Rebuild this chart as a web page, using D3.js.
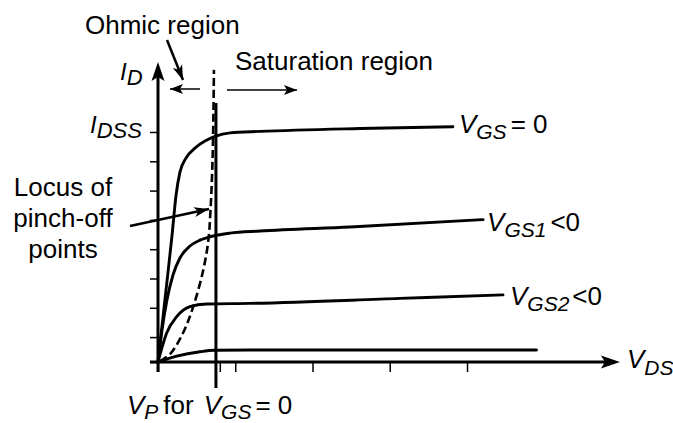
<!DOCTYPE html>
<html>
<head>
<meta charset="utf-8">
<script src="https://cdn.jsdelivr.net/npm/d3@7"></script>
<style>
  html, body { margin: 0; padding: 0; background: #fff; }
  svg { display: block; font-family: "Liberation Sans", Arial, sans-serif; }
</style>
</head>
<body>
<div id="chart"></div>
<script>
// JFET drain characteristics (arbitrary units)
const vgs0Vds = [0, 0.52, 0.91, 1.17, 1.42, 1.81, 2.39, 3.04, 3.69, 4.66, 6.6, 13.07, 19.09];
const vgs0Id = [0, 2.46, 4.33, 5.7, 6.48, 6.96, 7.3, 7.54, 7.7, 7.82, 7.87, 7.97, 8.03];

const vgs1Vds = [0, 0.26, 0.58, 0.97, 1.42, 2.07, 2.72, 3.56, 4.66, 6.6, 12.43, 21.04];
const vgs1Id = [0, 1.09, 2.12, 2.97, 3.55, 3.96, 4.16, 4.3, 4.4, 4.47, 4.61, 4.86];

const vgs2Vds = [0, 0.56, 1.21, 2.07, 3.15, 5.95, 15.66, 22.33];
const vgs2Id = [0, 0.99, 1.55, 1.89, 1.98, 2.0, 2.17, 2.29];

const vgs3Vds = [0, 1.21, 2.72, 3.69, 6.0, 24.5];
const vgs3Id = [0, 0.2, 0.35, 0.4, 0.41, 0.41];

// locus of pinch-off points (dashed)
const locusVds = [0.13, 0.78, 1.62, 2.28, 2.93, 3.26, 3.4, 3.53, 3.59, 3.62];
const locusId = [0.03, 0.27, 0.99, 1.89, 3.14, 4.16, 5.19, 6.89, 8.6, 9.97];

const vpVds = 3.75;
const idss = 7.85;
const xTicks = [0, 4, 5, 10, 15, 20];
const yTicks = [0, 0.85, 1.85, 2.85, 3.85, 4.85, 5.85, 6.85, 7.85];

const W = 673;
const H = 423;

const svg = d3.select('#chart').append('svg').attr('width', W).attr('height', H);
svg.append('rect').attr('width', W).attr('height', H).attr('fill', '#fff');

const x = d3.scaleLinear().domain([0, 30]).range([158, 621.5]);
const y = d3.scaleLinear().domain([0, 10]).range([362, 69]);

// ticks
svg
  .append('g')
  .attr('transform', `translate(0,${y(0)})`)
  .call(d3.axisBottom(x).tickValues(xTicks).tickSize(10).tickSizeOuter(0).tickFormat(''))
  .call((g) => g.select('.domain').remove())
  .call((g) => g.selectAll('line').attr('stroke', '#000').attr('stroke-width', 1.5));

svg
  .append('g')
  .attr('transform', `translate(${x(0)},0)`)
  .call(d3.axisLeft(y).tickValues(yTicks).tickSize(8).tickSizeOuter(0).tickFormat(''))
  .call((g) => g.select('.domain').remove())
  .call((g) => g.selectAll('line').attr('stroke', '#000').attr('stroke-width', 1.5));

// axis lines with arrow heads
const yTop = y(10.24);
const xEnd = x(29.9);
svg.append('line')
  .attr('x1', x(0)).attr('y1', y(-0.34))
  .attr('x2', x(0)).attr('y2', yTop + 14)
  .attr('stroke', '#000').attr('stroke-width', 3);
svg.append('path')
  .attr('d', `M${x(0)},${yTop} L${x(0) + 6.5},${yTop + 19} L${x(0)},${yTop + 15} L${x(0) - 6.5},${yTop + 19} Z`)
  .attr('fill', '#000');

svg.append('line')
  .attr('x1', x(-0.52)).attr('y1', y(0))
  .attr('x2', xEnd - 14).attr('y2', y(0))
  .attr('stroke', '#000').attr('stroke-width', 3);
svg.append('path')
  .attr('d', `M${xEnd},${y(0)} L${xEnd - 19},${y(0) - 6.5} L${xEnd - 15},${y(0)} L${xEnd - 19},${y(0) + 6.5} Z`)
  .attr('fill', '#000');

// curves
const line = d3.line().x((d) => x(d[0])).y((d) => y(d[1])).curve(d3.curveMonotoneX);
const curves = [
  [vgs0Vds, vgs0Id],
  [vgs1Vds, vgs1Id],
  [vgs2Vds, vgs2Id],
  [vgs3Vds, vgs3Id],
];
svg.append('g')
  .selectAll('path')
  .data(curves.map(([vx, vy]) => vx.map((v, i) => [v, vy[i]])))
  .enter()
  .append('path')
  .attr('d', line)
  .attr('fill', 'none')
  .attr('stroke', '#000')
  .attr('stroke-width', 2.9)
  .attr('stroke-linecap', 'round');

svg.append('path')
  .attr('d', d3.line().x((d) => x(d[0])).y((d) => y(d[1])).curve(d3.curveCatmullRom.alpha(0.5))(
    locusVds.map((v, i) => [v, locusId[i]])))
  .attr('fill', 'none')
  .attr('stroke', '#000')
  .attr('stroke-width', 2.6)
  .attr('stroke-dasharray', '8,4');

// pinch-off voltage line
svg.append('line')
  .attr('x1', x(vpVds)).attr('y1', y(8.84))
  .attr('x2', x(vpVds)).attr('y2', y(-0.89))
  .attr('stroke', '#000').attr('stroke-width', 3);

// text helper: parts are [text, style, dx] where style is 'n', 'i' or 's' (italic subscript)
function richText(px, py, parts, size, subSize, shift) {
  const t = svg.append('text').attr('x', px).attr('y', py).attr('font-size', size).attr('fill', '#000');
  let down = 0;
  parts.forEach(([s, k, dx]) => {
    const sp = t.append('tspan').text(s);
    if (dx) sp.attr('dx', dx);
    if (k === 'i' || k === 's') sp.attr('font-style', 'italic');
    if (k === 's') {
      sp.attr('font-size', subSize).attr('dy', shift - down);
      down = shift;
    } else if (down) {
      sp.attr('dy', -down);
      down = 0;
    }
  });
  return t;
}

richText(85, 34, [['Ohmic region', 'n']], 26);
richText(235, 70, [['Saturation region', 'n']], 26);

const locusLines = ['Locus of', 'pinch-off', 'points'];
svg.append('g')
  .selectAll('text')
  .data(locusLines)
  .enter()
  .append('text')
  .attr('x', 63)
  .attr('y', (d, i) => 196 + i * 31)
  .attr('text-anchor', 'middle')
  .attr('font-size', 26)
  .text((d) => d);

richText(120, 80, [['I', 'i'], ['D', 's']], 24, 22, 5);
richText(90, y(idss) + 1, [['I', 'i'], ['DSS', 's']], 24, 22, 5);

const ends = curves.map(([vx, vy]) => [vx[vx.length - 1], vy[vy.length - 1]]);
richText(x(ends[0][0]) + 6, y(ends[0][1]) + 6, [['V', 'i'], ['GS', 's'], ['= 0', 'n', 4]], 26, 21, 6);
richText(x(ends[1][0]) + 4, y(ends[1][1]) + 11, [['V', 'i'], ['GS1', 's'], ['<0', 'n', 4]], 26, 21, 6);
richText(x(ends[2][0]) + 7, y(ends[2][1]) + 10, [['V', 'i'], ['GS2', 's'], ['<0', 'n', 3]], 26, 21, 6);
richText(xEnd + 7, y(0) + 6, [['V', 'i'], ['DS', 's']], 26, 21, 7);
richText(127, 414, [['V', 'i'], ['P', 's'], ['for', 'n', 5], ['V', 'i', 10], ['GS', 's'], ['= 0', 'n', 4]], 26, 21, 5);

// arrows
const defs = svg.append('defs');
defs.append('marker')
  .attr('id', 'head')
  .attr('markerUnits', 'userSpaceOnUse')
  .attr('markerWidth', 16).attr('markerHeight', 12)
  .attr('refX', 15).attr('refY', 6)
  .attr('orient', 'auto')
  .append('path')
  .attr('d', 'M0,1 L15,6 L0,11 L4,6 Z')
  .attr('fill', '#000');
defs.append('marker')
  .attr('id', 'thin')
  .attr('markerUnits', 'userSpaceOnUse')
  .attr('markerWidth', 14).attr('markerHeight', 10)
  .attr('refX', 13).attr('refY', 5)
  .attr('orient', 'auto')
  .append('path')
  .attr('d', 'M0,0 L13,5 L0,10 L3,5 Z')
  .attr('fill', '#000');

const arrows = [
  { x1: 200, y1: 89, x2: 170, y2: 89, w: 1.5, m: 'thin' },
  { x1: 227, y1: 90, x2: 297, y2: 90, w: 1.5, m: 'thin' },
  { x1: 167, y1: 40, x2: 183, y2: 80, w: 2.5, m: 'head' },
  { x1: 130, y1: 226, x2: 209, y2: 209, w: 2.5, m: 'head' },
];
svg.append('g')
  .selectAll('line')
  .data(arrows)
  .enter()
  .append('line')
  .attr('x1', (d) => d.x1).attr('y1', (d) => d.y1)
  .attr('x2', (d) => d.x2).attr('y2', (d) => d.y2)
  .attr('stroke', '#000')
  .attr('stroke-width', (d) => d.w)
  .attr('marker-end', (d) => `url(#${d.m})`);
</script>
</body>
</html>
